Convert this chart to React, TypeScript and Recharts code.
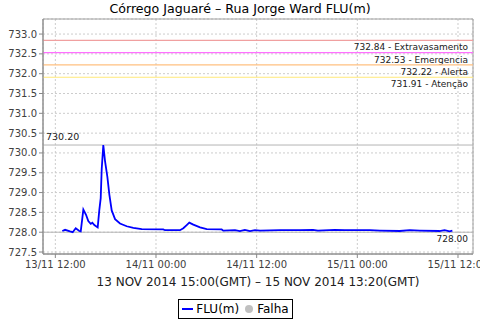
import {
  CartesianGrid,
  Legend,
  Line,
  LineChart,
  ReferenceArea,
  ReferenceLine,
  XAxis,
  YAxis,
} from "recharts";

// hours counted from 13/11 00:00 (local time)
const hours = [
  12.83, 13.16, 13.75, 14.07, 14.43, 14.86, 15.03, 15.34, 15.66, 15.93, 16.22, 16.41, 16.65,
  17.05, 17.24, 17.41, 17.53, 17.72, 17.92, 18.2, 18.44, 18.72, 19.12, 19.71, 20.51, 21.3,
  22.3, 24.87, 25.07, 26.86, 27.26, 27.66, 27.97, 28.45, 29.25, 30.05, 31.83, 32.02, 33.42,
  34.0, 34.6, 35.2, 35.8, 36.4, 38.78, 41.17, 42.72, 43.3, 45.3, 46.5, 49.5, 50.7, 53.06,
  54.25, 55.44, 57.8, 58.4, 59.0, 59.33,
];
const level = [
  728.03, 728.06, 728.02, 728.0, 728.1, 728.03, 728.02, 728.57, 728.44, 728.28, 728.21, 728.24,
  728.18, 728.12, 728.55, 728.86, 729.6, 730.2, 729.8, 729.4, 728.95, 728.55, 728.33, 728.22,
  728.15, 728.11, 728.08, 728.07, 728.05, 728.05, 728.1, 728.18, 728.24, 728.19, 728.12,
  728.08, 728.07, 728.04, 728.05, 728.03, 728.06, 728.03, 728.05, 728.04, 728.05, 728.05,
  728.06, 728.04, 728.06, 728.05, 728.05, 728.04, 728.03, 728.05, 728.04, 728.03, 728.05,
  728.02, 728.04,
];

const xTicks = [12, 24, 36, 48, 60];
const xTickLabels = ["13/11 12:00", "14/11 00:00", "14/11 12:00", "15/11 00:00", "15/11 12:00"];
const yTicks = [727.5, 728, 728.5, 729, 729.5, 730, 730.5, 731, 731.5, 732, 732.5, 733];

const thresholdValues = [732.84, 732.53, 732.22, 731.91];
const thresholdNames = ["Extravasamento", "Emergencia", "Alerta", "Atenção"];
const thresholdColors = ["#f0a0a0", "#ff70ff", "#ffc080", "#ffe878"];

const maxValue = 730.2;
const lastValue = 728.0;

const xDomain = [10.53, 61.79];
const yDomain = [727.45, 733.38];

const data = hours.map((h, i) => ({ h, flu: level[i] }));

const font = "'DejaVu Sans', sans-serif";

function belowRight(text: string) {
  return (props: any) => {
    const vb = props.viewBox || {};
    return (
      <text
        x={vb.x + vb.width - 5}
        y={vb.y + 10}
        textAnchor="end"
        fontSize={9}
        fontFamily={font}
        fill="#202020"
      >
        {text}
      </text>
    );
  };
}

function aboveLeft(text: string) {
  return (props: any) => {
    const vb = props.viewBox || {};
    return (
      <text x={vb.x + 3} y={vb.y - 5} fontSize={9.5} fontFamily={font} fill="#202020">
        {text}
      </text>
    );
  };
}

function LegendBox() {
  return (
    <div style={{ height: 22, display: "flex", justifyContent: "center" }}>
      <div
        style={{
          marginTop: 1,
          height: 20,
          boxSizing: "border-box",
          border: "1px solid #000",
          display: "flex",
          alignItems: "center",
          padding: "0 3px",
          fontFamily: font,
          fontSize: 12,
          color: "#000",
          marginLeft: -2,
        }}
      >
        <span style={{ width: 11, height: 2, background: "#0000ff", marginRight: 3 }} />
        <span>FLU(m)</span>
        <span
          style={{
            width: 8,
            height: 8,
            borderRadius: 4,
            background: "#c0c0c0",
            margin: "0 4px 0 6px",
          }}
        />
        <span>Falha</span>
      </div>
    </div>
  );
}

export default function App() {
  return (
    <div style={{ position: "absolute", left: 0, top: 0, width: 480, height: 320, background: "#fff" }}>
      <div
        style={{
          position: "absolute",
          left: 0,
          top: 1,
          width: 480,
          textAlign: "center",
          fontFamily: font,
          fontSize: 12.6,
          lineHeight: "16px",
          color: "#000",
        }}
      >
        Córrego Jaguaré – Rua Jorge Ward FLU(m)
      </div>
      <LineChart width={480} height={320} data={data} margin={{ top: 19, right: 7, bottom: 0, left: 0 }}>
        <CartesianGrid strokeDasharray="2 2" stroke="#cccccc" />
        <XAxis
          dataKey="h"
          type="number"
          domain={xDomain}
          ticks={xTicks}
          interval={0}
          allowDataOverflow
          height={44}
          tickSize={4}
          tickMargin={3}
          stroke="#888888"
          tick={{ fill: "#404040", fontSize: 10, fontFamily: font }}
          tickFormatter={(v: number) => xTickLabels[xTicks.indexOf(v)] ?? ""}
          label={{
            value: "13 NOV 2014 15:00(GMT) – 15 NOV 2014 13:20(GMT)",
            position: "insideBottom",
            offset: 12,
            fontSize: 12,
            fontFamily: font,
            fill: "#202020",
          }}
        />
        <YAxis
          type="number"
          domain={yDomain}
          ticks={yTicks}
          interval={0}
          allowDataOverflow
          width={43}
          tickSize={4}
          tickMargin={2}
          stroke="#888888"
          tick={{ fill: "#404040", fontSize: 10, fontFamily: font }}
          tickFormatter={(v: number) => v.toFixed(1)}
        />
        <ReferenceArea
          x1={xDomain[0]}
          x2={xDomain[1]}
          y1={yDomain[0]}
          y2={yDomain[1]}
          fill="none"
          fillOpacity={0}
          stroke="#a0a0a0"
        />
        {thresholdValues.map((v, i) => (
          <ReferenceLine
            key={v}
            y={v}
            stroke={thresholdColors[i]}
            strokeWidth={1.2}
            label={belowRight(`${v.toFixed(2)} - ${thresholdNames[i]}`)}
          />
        ))}
        <ReferenceLine y={maxValue} stroke="#b4b4b4" label={aboveLeft(maxValue.toFixed(2))} />
        <ReferenceLine y={lastValue} stroke="#b4b4b4" label={belowRight(lastValue.toFixed(2))} />
        <Line
          type="linear"
          dataKey="flu"
          stroke="#0000ff"
          strokeWidth={1.8}
          dot={false}
          isAnimationActive={false}
        />
        <Legend verticalAlign="bottom" height={22} content={() => <LegendBox />} />
      </LineChart>
    </div>
  );
}
